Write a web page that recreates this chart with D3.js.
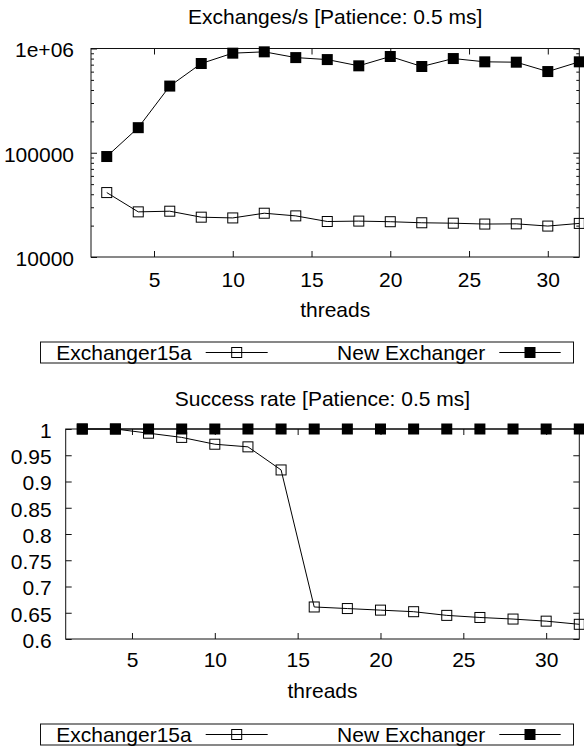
<!DOCTYPE html>
<html><head><meta charset="utf-8">
<script src="https://cdn.jsdelivr.net/npm/d3@7"></script>
<style>
body{margin:0;background:#fff}
text{font-family:"Liberation Sans",Arial,Helvetica,sans-serif;fill:#000}
</style>
</head><body>
<svg id="c" width="584" height="747"></svg>
<script>
// ---------- data ----------
const threads = [2,4,6,8,10,12,14,16,18,20,22,24,26,28,30,32];
const seriesNames = ["Exchanger15a","New Exchanger"];
const rateOld = [41500,27100,27500,24100,23700,26300,24800,21900,22100,21800,21300,21100,20700,20800,19800,21000];
const rateNew = [92000,174000,436000,718000,902000,929000,818000,783000,682000,838000,672000,801000,745000,739000,601000,745000];
const successOld = [1,1,0.992,0.984,0.971,0.966,0.922,0.661,0.658,0.655,0.652,0.645,0.641,0.638,0.634,0.628];
const successNew = [1,1,1,1,1,1,1,1,1,1,1,1,1,1,1,1];
const xTicks = [5,10,15,20,25,30];
const yTicksTop = [1e4,1e5,1e6];
const yTickLabelsTop = ["10000","100000","1e+06"];
const yTicksBottom = [0.6,0.65,0.7,0.75,0.8,0.85,0.9,0.95,1];
const yTickLabelsBottom = ["0.6","0.65","0.7","0.75","0.8","0.85","0.9","0.95","1"];
const titles = ["Exchanges/s [Patience: 0.5 ms]","Success rate [Patience: 0.5 ms]"];
const xLabel = "threads";

const svg = d3.select("#c");
const FS = 21;
const INK = "#111";

function panel(cfg){
  const g = svg.append("g");
  const x = d3.scaleLinear().domain([1,32]).range([cfg.left,cfg.right]);
  const y = cfg.log
    ? d3.scaleLog().domain([1e4,1e6]).range([cfg.bottom,cfg.top])
    : d3.scaleLinear().domain([0.6,1]).range([cfg.bottom,cfg.top]);

  // title
  g.append("text").attr("x",(cfg.left+cfg.right)/2).attr("y",cfg.titleY)
    .attr("text-anchor","middle").style("font-size",FS+"px").text(cfg.title);

  // bottom axis with inward ticks
  const ax = g.append("g").attr("transform",`translate(0,${cfg.bottom})`)
    .call(d3.axisBottom(x).tickValues(xTicks).tickSizeInner(-6).tickSizeOuter(0).tickPadding(cfg.xPad));
  ax.select(".domain").remove();
  ax.selectAll("text").style("font-size",FS+"px");
  ax.selectAll("line").attr("stroke",INK);
  // top mirror ticks
  const axT = g.append("g").attr("transform",`translate(0,${cfg.top})`)
    .call(d3.axisTop(x).tickValues(xTicks).tickSizeInner(-6).tickSizeOuter(0).tickFormat(""));
  axT.select(".domain").remove();
  axT.selectAll("line").attr("stroke",INK);

  // left axis
  const ay = g.append("g").attr("transform",`translate(${cfg.left},0)`)
    .call(d3.axisLeft(y).tickValues(cfg.yTicks).tickSizeInner(-6).tickSizeOuter(0)
      .tickPadding(cfg.yPad).tickFormat((d,i)=>cfg.yLabels[i]));
  ay.select(".domain").remove();
  ay.selectAll("text").style("font-size",FS+"px").attr("dy","0.4em");
  ay.selectAll("line").attr("stroke",INK);
  const ayR = g.append("g").attr("transform",`translate(${cfg.right},0)`)
    .call(d3.axisRight(y).tickValues(cfg.yTicks).tickSizeInner(-6).tickSizeOuter(0).tickFormat(""));
  ayR.select(".domain").remove();
  ayR.selectAll("line").attr("stroke",INK);

  if(cfg.log){
    const minors=[];
    [1e4,1e5].forEach(b=>{for(let m=2;m<=9;m++) minors.push(m*b);});
    const mL = g.append("g").attr("transform",`translate(${cfg.left},0)`)
      .call(d3.axisLeft(y).tickValues(minors).tickSizeInner(-3).tickSizeOuter(0).tickFormat(""));
    mL.select(".domain").remove(); mL.selectAll("line").attr("stroke",INK);
    const mR = g.append("g").attr("transform",`translate(${cfg.right},0)`)
      .call(d3.axisRight(y).tickValues(minors).tickSizeInner(-3).tickSizeOuter(0).tickFormat(""));
    mR.select(".domain").remove(); mR.selectAll("line").attr("stroke",INK);
  }

  // frame
  g.append("rect").attr("x",cfg.left).attr("y",cfg.top)
    .attr("width",cfg.right-cfg.left).attr("height",cfg.bottom-cfg.top)
    .attr("fill","none").attr("stroke",INK).attr("stroke-width",1);

  // x label
  g.append("text").attr("x",(cfg.left+cfg.right)/2).attr("y",cfg.xLabelY)
    .attr("text-anchor","middle").style("font-size",FS+"px").text(xLabel);

  // series
  const line = d3.line().x((d,i)=>x(threads[i])).y(d=>y(d));
  cfg.series.forEach((vals,si)=>{
    g.append("path").datum(vals).attr("d",line).attr("fill","none")
      .attr("stroke","#000").attr("stroke-width",1);
  });
  // open markers
  g.selectAll(null).data(cfg.series[0]).enter().append("rect")
    .attr("x",(d,i)=>x(threads[i])-5).attr("y",d=>y(d)-5)
    .attr("width",10).attr("height",10).attr("fill","none").attr("stroke","#000").attr("stroke-width",1);
  // filled markers
  g.selectAll(null).data(cfg.series[1]).enter().append("rect")
    .attr("x",(d,i)=>x(threads[i])-5.5).attr("y",d=>y(d)-5.5)
    .attr("width",11).attr("height",11).attr("fill","#000");

  // legend
  const L = g.append("g");
  L.append("rect").attr("x",40.5).attr("y",cfg.legY).attr("width",533).attr("height",21)
    .attr("fill","none").attr("stroke",INK).attr("stroke-width",1);
  const entries = [{line0:205.7,line1:267.7,mk:236.7},{line0:499.3,line1:560.7,mk:530}];
  entries.forEach((e,i)=>{
    L.append("text").attr("x",e.line0-14).attr("y",cfg.legY+17.5).attr("text-anchor","end")
      .style("font-size",FS+"px").text(seriesNames[i]);
    L.append("line").attr("x1",e.line0).attr("x2",e.line1)
      .attr("y1",cfg.legY+10.5).attr("y2",cfg.legY+10.5).attr("stroke","#000");
    if(i===0){
      L.append("rect").attr("x",e.mk-5).attr("y",cfg.legY+5.5).attr("width",10).attr("height",10)
        .attr("fill","none").attr("stroke","#000");
    } else {
      L.append("rect").attr("x",e.mk-5.5).attr("y",cfg.legY+5).attr("width",11).attr("height",11)
        .attr("fill","#000");
    }
  });
}

panel({left:91,right:579.3,top:48.5,bottom:257,log:true,title:titles[0],titleY:24,
  yTicks:yTicksTop,yLabels:yTickLabelsTop,yPad:17,xPad:15,xLabelY:317,
  series:[rateOld,rateNew],legY:342});
panel({left:65.7,right:579.3,top:429,bottom:639,log:false,title:titles[1],titleY:406,
  yTicks:yTicksBottom,yLabels:yTickLabelsBottom,yPad:14,xPad:13,xLabelY:698,
  series:[successOld,successNew],legY:724});
</script>
</body></html>
